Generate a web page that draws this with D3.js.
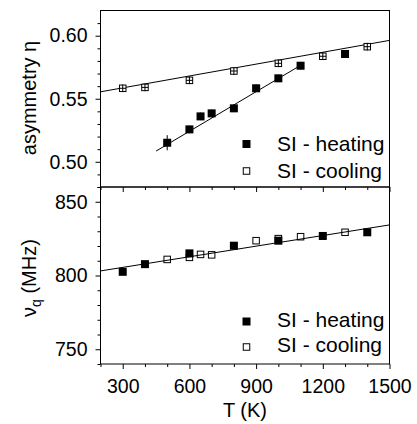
<!DOCTYPE html>
<html><head><meta charset="utf-8">
<script src="https://cdn.jsdelivr.net/npm/d3@7"></script>
<style>
body{margin:0;background:#fff;}
svg text{font-family:"Liberation Sans",Arial,sans-serif;fill:#000;}
</style></head>
<body><svg id="c" width="417" height="424"></svg>
<script>
// ---- data ----
const topHeatT   = [500, 600, 650, 700, 800, 900, 1000, 1100, 1300];
const topHeatEta = [0.5151, 0.5257, 0.5360, 0.5384, 0.5424, 0.5583, 0.5662, 0.5762, 0.5855];
const topHeatErr = [0.006, 0.003, 0.003, 0.003, 0.003, 0.003, 0.003, 0.003, 0.003];
const topCoolT   = [300, 400, 600, 800, 1000, 1200, 1400];
const topCoolEta = [0.5583, 0.5590, 0.5646, 0.5720, 0.5781, 0.5837, 0.5913];
const topCoolErr = [0.003, 0.003, 0.003, 0.003, 0.003, 0.003, 0.003];
const topCoolXErr = [15, 15, 15, 15, 15, 15, 15];
const topCoolFit = [[200, 0.5555], [1500, 0.5963]];
const topHeatFit = [[450, 0.5085], [1100, 0.5765]];

const botHeatT  = [300, 400, 600, 800, 1000, 1200, 1400];
const botHeatNu = [802.5, 807.7, 815.0, 820.2, 823.6, 826.8, 829.3];
const botCoolT  = [500, 600, 650, 700, 900, 1000, 1100, 1300];
const botCoolNu = [810.9, 812.3, 814.3, 814.0, 823.6, 825.0, 826.3, 829.3];
const botFit = [[200, 803.1], [1500, 834.3]];

const xMajor = [300, 600, 900, 1200, 1500];
const xMinor = [200, 400, 500, 700, 800, 1000, 1100, 1300, 1400];
const yTopMajor = [0.50, 0.55, 0.60];
const yTopMinor = [0.48, 0.49, 0.51, 0.52, 0.53, 0.54, 0.56, 0.57, 0.58, 0.59, 0.61];
const yBotMajor = [750, 800, 850];
const yBotMinor = [740, 760, 770, 780, 790, 810, 820, 830, 840, 860];
const legendLabels = ["SI - heating", "SI - cooling"];

// ---- layout ----
const svg = d3.select("#c");
const L = 100.5, R = 389.5, T1 = 10.5, M = 187, B = 364;
const x = d3.scaleLinear().domain([200, 1500]).range([L, R]);
const yT = d3.scaleLinear().domain([0.48, 0.62]).range([M, T1]);
const yB = d3.scaleLinear().domain([740, 860]).range([B, M]);
const FS = 20, FT = 19.5, FL = 21;

function axisStyle(g){
  g.selectAll("path.domain").remove();
  g.selectAll("line").attr("stroke", "#000").attr("stroke-width", 1);
  g.selectAll("text").attr("font-size", FT).attr("fill", "#000")
   .style("font-family", '"Liberation Sans",Arial,sans-serif');
}

// y axes
svg.append("g").attr("transform", `translate(${L},0)`)
  .call(d3.axisLeft(yT).tickValues(yTopMajor).tickSize(5).tickPadding(8).tickFormat(d3.format(".2f"))).call(axisStyle);
svg.append("g").attr("transform", `translate(${L},0)`)
  .call(d3.axisLeft(yT).tickValues(yTopMinor).tickSize(3).tickFormat("")).call(axisStyle);
svg.append("g").attr("transform", `translate(${L},0)`)
  .call(d3.axisLeft(yB).tickValues(yBotMajor).tickSize(5).tickPadding(8).tickFormat(d3.format("d"))).call(axisStyle);
svg.append("g").attr("transform", `translate(${L},0)`)
  .call(d3.axisLeft(yB).tickValues(yBotMinor).tickSize(3).tickFormat("")).call(axisStyle);

// x axes (top panel bottom: ticks only; bottom panel: labels)
svg.append("g").attr("transform", `translate(0,${M})`)
  .call(d3.axisBottom(x).tickValues(xMajor).tickSize(5).tickFormat("")).call(axisStyle);
svg.append("g").attr("transform", `translate(0,${M})`)
  .call(d3.axisBottom(x).tickValues(xMinor).tickSize(3).tickFormat("")).call(axisStyle);
svg.append("g").attr("transform", `translate(0,${B})`)
  .call(d3.axisBottom(x).tickValues(xMajor).tickSize(5).tickPadding(10).tickFormat(d3.format("d"))).call(axisStyle);
svg.append("g").attr("transform", `translate(0,${B})`)
  .call(d3.axisBottom(x).tickValues(xMinor).tickSize(3).tickFormat("")).call(axisStyle);

// frames
svg.append("rect").attr("x", L).attr("y", T1).attr("width", R - L).attr("height", M - T1)
  .attr("fill", "none").attr("stroke", "#000").attr("stroke-width", 1);
svg.append("rect").attr("x", L).attr("y", M).attr("width", R - L).attr("height", B - M)
  .attr("fill", "none").attr("stroke", "#000").attr("stroke-width", 1);

// fit lines
const lineT = d3.line().x(d => x(d[0])).y(d => yT(d[1]));
const lineB = d3.line().x(d => x(d[0])).y(d => yB(d[1]));
svg.append("path").attr("d", lineT(topCoolFit)).attr("stroke", "#000").attr("stroke-width", 1).attr("fill", "none");
svg.append("path").attr("d", lineT(topHeatFit)).attr("stroke", "#000").attr("stroke-width", 1).attr("fill", "none");
svg.append("path").attr("d", lineB(botFit)).attr("stroke", "#000").attr("stroke-width", 1).attr("fill", "none");

const S = 8, So = 7.5;
// top panel markers with error bars
const gT = svg.append("g");
topHeatT.forEach((t, i) => {
  gT.append("line").attr("x1", x(t)).attr("x2", x(t))
    .attr("y1", yT(topHeatEta[i] - topHeatErr[i])).attr("y2", yT(topHeatEta[i] + topHeatErr[i]))
    .attr("stroke", "#000").attr("stroke-width", 1);
});
topHeatT.forEach((t, i) => {
  gT.append("rect").attr("x", x(t) - S / 2).attr("y", yT(topHeatEta[i]) - S / 2)
    .attr("width", S).attr("height", S).attr("fill", "#000");
});
topCoolT.forEach((t, i) => {
  gT.append("rect").attr("x", x(t) - So / 2 + 0.5).attr("y", yT(topCoolEta[i]) - So / 2 + 0.5)
    .attr("width", So - 1).attr("height", So - 1).attr("fill", "#fff").attr("stroke", "#000").attr("stroke-width", 1);
  gT.append("line").attr("x1", x(t)).attr("x2", x(t))
    .attr("y1", yT(topCoolEta[i] - topCoolErr[i])).attr("y2", yT(topCoolEta[i] + topCoolErr[i]))
    .attr("stroke", "#000").attr("stroke-width", 1);
  gT.append("line").attr("x1", x(t - topCoolXErr[i])).attr("x2", x(t + topCoolXErr[i]))
    .attr("y1", yT(topCoolEta[i])).attr("y2", yT(topCoolEta[i]))
    .attr("stroke", "#000").attr("stroke-width", 1);
});

// bottom panel markers
const gB = svg.append("g");
botHeatT.forEach((t, i) => {
  gB.append("rect").attr("x", x(t) - S / 2).attr("y", yB(botHeatNu[i]) - S / 2)
    .attr("width", S).attr("height", S).attr("fill", "#000");
});
botCoolT.forEach((t, i) => {
  gB.append("rect").attr("x", x(t) - So / 2 + 0.5).attr("y", yB(botCoolNu[i]) - So / 2 + 0.5)
    .attr("width", So - 1).attr("height", So - 1).attr("fill", "none").attr("stroke", "#000").attr("stroke-width", 1);
});

// legends
function legend(y1, y2, off){
  const mx = 246.5, tx = 277;
  svg.append("rect").attr("x", mx - S / 2).attr("y", y1 - S / 2).attr("width", S).attr("height", S).attr("fill", "#000");
  svg.append("rect").attr("x", mx - So / 2 + 0.5).attr("y", y2 - So / 2 + 0.5).attr("width", So - 1).attr("height", So - 1)
    .attr("fill", "none").attr("stroke", "#000").attr("stroke-width", 1);
  svg.append("text").attr("x", tx).attr("y", y1 + off).attr("font-size", FL).text(legendLabels[0]);
  svg.append("text").attr("x", tx).attr("y", y2 + off).attr("font-size", FL).text(legendLabels[1]);
}
legend(144, 171, 7);
legend(321.5, 347, 5);

// axis titles
svg.append("text").attr("transform", "translate(36,98) rotate(-90)").attr("text-anchor", "middle")
  .attr("font-size", FS).text("asymmetry η");
const t2 = svg.append("text").attr("transform", "translate(36,278) rotate(-90)").attr("text-anchor", "middle")
  .attr("font-size", FS);
t2.append("tspan").text("ν");
t2.append("tspan").attr("font-size", 14).attr("dy", 5).text("q");
t2.append("tspan").attr("dy", -5).text(" (MHz)");
svg.append("text").attr("x", 245).attr("y", 417).attr("text-anchor", "middle").attr("font-size", FS).text("T (K)");
</script></body></html>
